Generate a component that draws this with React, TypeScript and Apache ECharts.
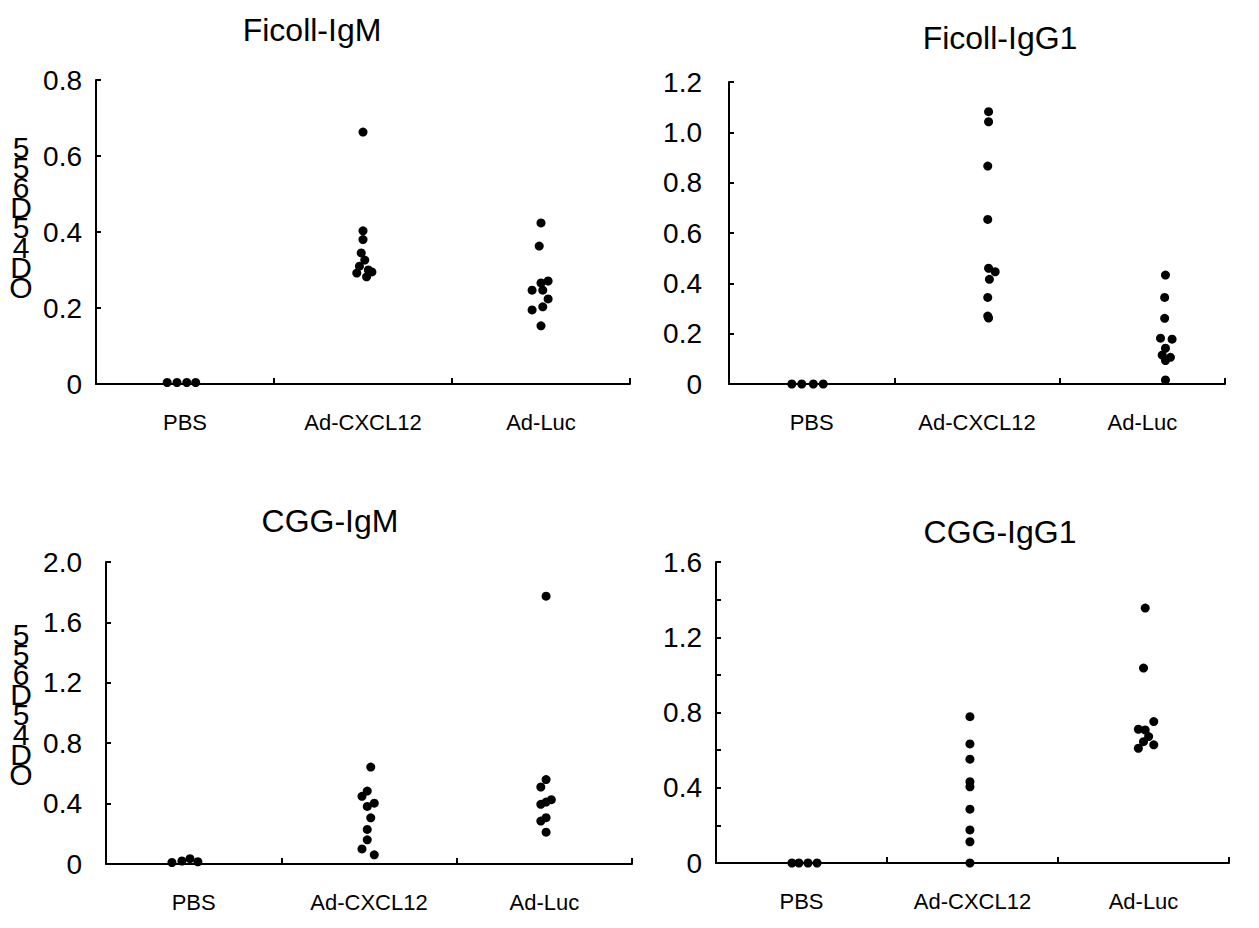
import React, { useEffect, useRef } from "react";
import * as echarts from "echarts";

const CATEGORIES = ["PBS", "Ad-CXCL12", "Ad-Luc"];
const TITLES = ["Ficoll-IgM", "Ficoll-IgG1", "CGG-IgM", "CGG-IgG1"];
const Y_LABEL_CHARS = ["5", "5", "6", "D", "5", "4", "D", "O"];

// Panel 1: Ficoll-IgM  (x = position in category units, y = OD)
const p1PbsX = [0.4, 0.455, 0.51, 0.56];
const p1PbsY = [0.004, 0.004, 0.004, 0.004];
const p1CxX = [1.5, 1.5, 1.5, 1.49, 1.51, 1.48, 1.53, 1.55, 1.465, 1.52];
const p1CxY = [0.663, 0.403, 0.38, 0.345, 0.326, 0.31, 0.3, 0.295, 0.292, 0.282];
const p1LucX = [2.5, 2.49, 2.54, 2.5, 2.45, 2.51, 2.54, 2.51, 2.45, 2.5];
const p1LucY = [0.424, 0.363, 0.271, 0.266, 0.247, 0.247, 0.224, 0.203, 0.195, 0.153];

// Panel 2: Ficoll-IgG1
const p2PbsX = [0.38, 0.44, 0.51, 0.57];
const p2PbsY = [0, 0, 0, 0];
const p2CxX = [1.57, 1.57, 1.565, 1.565, 1.57, 1.61, 1.575, 1.565, 1.565, 1.57];
const p2CxY = [1.082, 1.042, 0.866, 0.654, 0.46, 0.446, 0.416, 0.344, 0.27, 0.262];
const p2LucX = [2.64, 2.635, 2.635, 2.61, 2.68, 2.64, 2.62, 2.67, 2.64, 2.64];
const p2LucY = [0.433, 0.344, 0.261, 0.182, 0.178, 0.142, 0.115, 0.106, 0.093, 0.016];

// Panel 3: CGG-IgM
const p3PbsX = [0.376, 0.433, 0.479, 0.524];
const p3PbsY = [0.01, 0.02, 0.035, 0.015];
const p3CxX = [1.51, 1.49, 1.46, 1.53, 1.49, 1.51, 1.49, 1.49, 1.46, 1.53];
const p3CxY = [0.642, 0.483, 0.448, 0.403, 0.381, 0.306, 0.229, 0.16, 0.1, 0.061];
const p3LucX = [2.51, 2.51, 2.48, 2.54, 2.51, 2.48, 2.51, 2.48, 2.51];
const p3LucY = [1.774, 0.559, 0.51, 0.426, 0.41, 0.395, 0.307, 0.284, 0.211];

// Panel 4: CGG-IgG1
const p4PbsX = [0.444, 0.485, 0.538, 0.591];
const p4PbsY = [0, 0, 0, 0];
const p4CxX = [1.485, 1.485, 1.485, 1.485, 1.485, 1.485, 1.485, 1.485, 1.485];
const p4CxY = [0.778, 0.633, 0.552, 0.432, 0.405, 0.286, 0.176, 0.113, 0.0];
const p4LucX = [2.51, 2.5, 2.56, 2.47, 2.51, 2.53, 2.5, 2.47, 2.56];
const p4LucY = [1.355, 1.036, 0.752, 0.711, 0.707, 0.672, 0.645, 0.61, 0.628];

// y-axis scales per panel
const Y_MAX = [0.8, 1.2, 2.0, 1.6];
const Y_INTERVAL = [0.2, 0.2, 0.4, 0.4];
const Y_MINOR = [false, false, false, true];

const FONT = "'Liberation Sans', Arial, sans-serif";

const zip = (xs: number[], ys: number[]) => xs.map((x, i) => [x, ys[i]]);

const PANEL_DATA = [
  [zip(p1PbsX, p1PbsY), zip(p1CxX, p1CxY), zip(p1LucX, p1LucY)],
  [zip(p2PbsX, p2PbsY), zip(p2CxX, p2CxY), zip(p2LucX, p2LucY)],
  [zip(p3PbsX, p3PbsY), zip(p3CxX, p3CxY), zip(p3LucX, p3LucY)],
  [zip(p4PbsX, p4PbsY), zip(p4CxX, p4CxY), zip(p4LucX, p4LucY)],
];

const GRIDS = [
  { left: 96, top: 80, width: 534, height: 304 },
  { left: 729, top: 82, width: 496, height: 302 },
  { left: 106, top: 562, width: 526, height: 302 },
  { left: 716, top: 562, width: 513, height: 301 },
];
const Y_LABEL_MARGIN = [14, 27, 24, 14];
const TITLE_POS = [
  [312, 30],
  [1000, 38],
  [330, 521],
  [1000, 532],
];
const YLABEL_POS = [
  [21, 137],
  [21, 624],
];

export default function App() {
  const ref = useRef<HTMLDivElement>(null);
  useEffect(() => {
    if (!ref.current) return;
    const chart = echarts.init(ref.current, undefined, { renderer: "svg" });
    const axisLine = { show: true, lineStyle: { color: "#000", width: 2 } };
    const grid: any[] = [];
    const xAxis: any[] = [];
    const yAxis: any[] = [];
    const series: any[] = [];
    const graphic: any[] = [];
    GRIDS.forEach((g, i) => {
      grid.push({ ...g, containLabel: false });
      xAxis.push({
        type: "category",
        gridIndex: i,
        data: CATEGORIES,
        boundaryGap: true,
        axisLine,
        axisTick: { show: true, inside: true, length: 6, lineStyle: { color: "#000", width: 2 } },
        axisLabel: { color: "#000", fontSize: 22, fontFamily: FONT, margin: 27 },
        splitLine: { show: false },
      });
      xAxis.push({
        type: "value",
        gridIndex: i,
        min: 0,
        max: 3,
        show: false,
      });
      yAxis.push({
        type: "value",
        gridIndex: i,
        min: 0,
        max: Y_MAX[i],
        interval: Y_INTERVAL[i],
        axisLine,
        axisTick: { show: true, inside: true, length: 5, lineStyle: { color: "#000", width: 2 } },
        minorTick: { show: Y_MINOR[i], splitNumber: 2, length: 5, lineStyle: { color: "#000", width: 2 } },
        axisLabel: {
          color: "#000",
          fontSize: 28,
          fontFamily: FONT,
          margin: Y_LABEL_MARGIN[i],
          formatter: (v: number) => (v === 0 ? "0" : v.toFixed(1)),
        },
        splitLine: { show: false },
      });
      PANEL_DATA[i].forEach((d, k) => {
        series.push({
          type: "scatter",
          name: CATEGORIES[k],
          xAxisIndex: i * 2 + 1,
          yAxisIndex: i,
          data: d,
          symbol: "circle",
          symbolSize: 9,
          itemStyle: { color: "#000", opacity: 1 },
        });
      });
      graphic.push({
        type: "text",
        x: TITLE_POS[i][0],
        y: TITLE_POS[i][1],
        style: {
          text: TITLES[i],
          font: `32px ${FONT}`,
          fill: "#000",
          textAlign: "center",
          textVerticalAlign: "middle",
        },
      });
    });
    YLABEL_POS.forEach(([x, y]) => {
      graphic.push({
        type: "text",
        x,
        y,
        style: {
          text: Y_LABEL_CHARS.join("\n"),
          font: `30px ${FONT}`,
          lineHeight: 20,
          fill: "#000",
          textAlign: "center",
        },
      });
    });
    chart.setOption({
      animation: false,
      backgroundColor: "#fff",
      grid,
      xAxis,
      yAxis,
      series,
      graphic,
    });
    return () => chart.dispose();
  }, []);
  return (
    <div
      ref={ref}
      style={{ position: "fixed", left: 0, top: 0, width: 1259, height: 928, background: "#fff" }}
    />
  );
}
